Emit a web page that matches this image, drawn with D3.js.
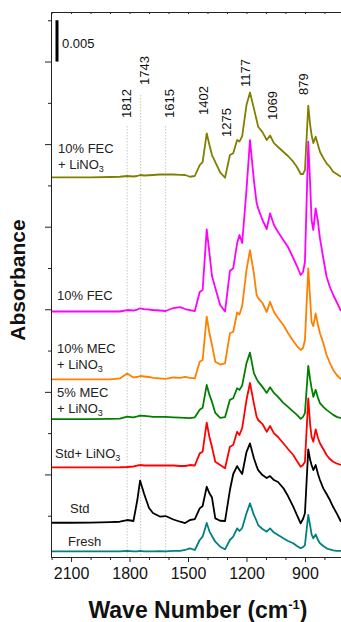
<!DOCTYPE html>
<html>
<head>
<meta charset="utf-8">
<script src="https://cdn.jsdelivr.net/npm/d3@7"></script>
<style>
  body { margin: 0; background: #fff; }
  text { font-family: Arial, "Liberation Sans", sans-serif; }
</style>
</head>
<body>
<svg id="chart"></svg>
<script>
// wave numbers (cm-1) shared by all spectra
const waveNumbers = [2200, 2100, 2000, 1900, 1850, 1812, 1780, 1760, 1746, 1725, 1700, 1680, 1645, 1615, 1575,
  1540, 1515, 1490, 1465, 1440, 1425, 1404, 1390, 1377, 1360, 1335, 1310, 1285, 1268, 1248, 1236, 1222,
  1200, 1182, 1162, 1148, 1140, 1118, 1096, 1079, 1059, 1038, 1011, 987, 960, 941, 922, 910, 900,
  883, 873, 866, 857, 845, 833, 823, 806, 789, 772, 755, 737, 715];

// absorbance above each baseline, in units of 0.001
const fec10Lino3 = [0, 0, 0, 0.04, 0.07, 0.16, 0.1, 0.16, 0.28, 0.22, 0.25, 0.28, 0.34, 0.36, 0.34,
  0.3, 0.28, 0.07, 0.16, 1.49, 1.85, 5.33, 3.91, 2.7, 1.85, 0.61, -0.05, 2.7, 2.91, 4.52, 4.33, 5.0,
  8.75, 10.27, 8.35, 6.94, 6.13, 5.48, 4.52, 5.06, 4.15, 3.67, 3.1, 2.58, 1.89, 1.25, 0.4, 0.4, 0.88,
  8.67, 6.33, 5.12, 4.15, 4.92, 3.91, 3.1, 2.34, 1.69, 1.25, 0.68, 0.4, 0.07];
const fec10 = [0, 0, 0, 0, 0, 0.18, 0.12, 0.24, 0.39, 0.3, 0.24, 0.18, 0.12, 0.06, 0.42,
  0.54, 0.3, 0.18, 0.06, 2.36, 2.6, 9.95, 7.08, 4.3, 2.85, 0.79, 0, 4.9, 5.23, 8.26, 9.26, 8.29,
  14.71, 20.76, 15.92, 13.14, 12.49, 11.08, 9.99, 11.89, 10.47, 9.62, 8.66, 7.81, 6.48, 5.51, 4.42, 4.78, 5.99,
  20.56, 15.31, 11.08, 9.87, 12.49, 10.84, 8.86, 6.48, 4.21, 2.97, 2.0, 1.15, 0.06];
const mec10Lino3 = [0, 0, 0, 0, 0.1, 0.7, 0.22, 0.28, 0.4, 0.34, 0.28, 0.16, 0.1, 0.04, 0.22,
  0.16, 0.28, 0.16, 0.1, 2.13, 2.34, 7.58, 5.57, 4.15, 2.13, 1.79, 1.94, 5.57, 5.76, 8.09, 7.85, 8.87,
  13.23, 15.65, 12.83, 10.21, 9.84, 9.24, 8.15, 9.39, 8.15, 7.42, 6.57, 5.61, 4.64, 4.03, 3.55, 3.79, 4.76,
  13.44, 9.6, 6.94, 6.45, 7.99, 6.57, 5.57, 4.39, 2.94, 1.97, 1.13, 0.52, 0];
const mec5Lino3 = [0, 0, 0.01, 0.04, 0.06, 0.31, 0.22, 0.34, 0.44, 0.4, 0.34, 0.28, 0.28, 0.28, 0.22,
  0.18, 0.16, 0.12, 0.22, 1.13, 1.37, 4.15, 2.94, 2.09, 0.76, 0.16, 0.24, 2.34, 2.54, 3.75, 3.55, 4.09,
  6.78, 8.06, 5.57, 4.88, 4.55, 3.91, 3.18, 3.87, 3.18, 2.7, 1.97, 1.49, 0.92, 0.52, 0.04, 0.28, 0.73,
  6.45, 4.76, 3.79, 2.7, 3.55, 2.58, 1.94, 1.49, 1.13, 0.82, 0.52, 0.28, 0.12];
const stdLino3 = [0, 0, 0, 0, 0.01, 0.04, 0.1, 0.22, 0.28, 0.22, 0.22, 0.22, 0.22, 0.24, 0.22,
  0.16, 0.16, 0.28, 0.22, 1.69, 1.89, 5.4, 3.67, 2.46, 0.68, 0.28, -0.12, 2.49, 2.7, 4.31, 3.91, 4.76,
  8.15, 10.21, 7.75, 6.13, 5.73, 5.24, 4.31, 5.0, 4.12, 3.67, 2.91, 2.22, 1.49, 0.76, 0.07, 0.28, 0.68,
  8.35, 5.12, 3.7, 3.1, 4.6, 3.55, 2.91, 2.22, 1.49, 1.0, 0.68, 0.46, 0.28];
const std = [0, 0, 0.02, 0.08, 0.12, 0.33, 0.21, 2.75, 5.11, 3.47, 1.78, 1.17, 0.75, 0.81, 0.39,
  0.12, -0.04, 0.33, 0.45, 1.74, 2.02, 4.36, 3.56, 3.05, 0.53, 0.24, 0.21, 3.96, 5.9, 6.86, 6.38, 5.9,
  8.56, 9.61, 7.8, 6.86, 6.38, 5.77, 5.41, 5.65, 5.17, 4.93, 4.2, 3.23, 1.94, 0.93, -0.07, 0.45, 1.14,
  8.89, 7.59, 6.99, 6.38, 6.99, 5.9, 5.17, 4.16, 3.47, 2.75, 1.9, 1.14, 0.12];
const fresh = [0, 0, 0, 0, 0, 0.04, 0, 0, 0.04, 0, 0, 0, 0.02, 0, 0.04,
  0.06, 0.16, 0.36, 0.16, 1.37, 1.77, 3.43, 2.42, 1.85, 1.16, 0.56, 0.24, 1.37, 1.77, 2.78, 2.46, 2.82,
  4.6, 5.81, 4.4, 3.67, 3.18, 2.7, 2.37, 2.78, 2.27, 1.97, 1.57, 1.25, 0.97, 0.64, 0.36, 0.52, 0.76,
  4.4, 3.07, 2.06, 1.57, 2.05, 1.36, 0.97, 0.64, 0.36, 0.22, 0.12, 0.06, 0.04];

// vertical stacking offset of each spectrum (units of 0.001)
const offsets = [45.98, 29.73, 21.52, 16.69, 10.86, 4.15, 0.69];
const seriesNames = [["10% FEC", "+ LiNO3"], ["10% FEC"], ["10% MEC", "+ LiNO3"], ["5% MEC", "+ LiNO3"],
  ["Std+ LiNO3"], ["Std"], ["Fresh"]];
const seriesValues = [fec10Lino3, fec10, mec10Lino3, mec5Lino3, stdLino3, std, fresh];

// peak assignments
const peaks = [1812, 1743, 1615, 1402, 1275, 1177, 1069, 879];
const guidePeaks = [1812, 1743, 1615];

const xMajor = [2100, 1800, 1500, 1200, 900];
const xMinor = [2200, 2000, 1900, 1700, 1600, 1400, 1300, 1100, 1000, 800];
const yMajor = [10, 20, 30, 40, 50, 60];
const yMinor = [5, 15, 25, 35, 45, 55, 65];
const scaleBar = [60, 65];

// layout
const colors = ["#808000", "#ff00ff", "#ff8000", "#008000", "#ff0000", "#000000", "#008080"];
const labelPos = [[58, 153], [57, 300], [57, 353], [57, 397], [55, 458], [70, 513], [68, 546]];
const peakLabelPos = [[-1, 118], [3.5, 85], [3.5, 118], [-3.5, 115], [-5, 137], [-6, 87], [0, 120], [-6, 95]];
const guideTop = [126, 95, 126];

const margin = { top: 12, right: 0, bottom: 65, left: 51 };
const width = 341 - margin.left - margin.right;
const height = 622 - margin.top - margin.bottom;

const x = d3.scaleLinear().domain([2203, 715]).range([0, width]);
const y = d3.scaleLinear().domain([0, 66]).range([height, 0]);

const svg = d3.select("#chart")
  .attr("width", 341)
  .attr("height", 622)
  .append("g")
  .attr("transform", "translate(" + margin.left + "," + margin.top + ")");

// dotted guide lines
svg.selectAll(".guide")
  .data(guidePeaks)
  .join("line")
  .attr("x1", d => x(d))
  .attr("x2", d => x(d))
  .attr("y1", (d, i) => guideTop[i] - margin.top)
  .attr("y2", height)
  .attr("stroke", "#c8c8c8")
  .attr("stroke-width", 1)
  .attr("stroke-dasharray", "1.5,1.5");

// spectra
seriesValues.forEach(function (vals, i) {
  const line = d3.line()
    .x((d, j) => x(waveNumbers[j]))
    .y(d => y(d + offsets[i]));
  svg.append("path")
    .datum(vals)
    .attr("fill", "none")
    .attr("stroke", colors[i])
    .attr("stroke-width", 1.8)
    .attr("stroke-linejoin", "round")
    .attr("d", line);
});

// series labels
seriesNames.forEach(function (lines, i) {
  lines.forEach(function (t, k) {
    const txt = svg.append("text")
      .attr("x", labelPos[i][0] - margin.left)
      .attr("y", labelPos[i][1] - margin.top + k * 16)
      .style("font-size", "13px")
      .attr("fill", "#222");
    if (t.indexOf("LiNO3") >= 0) {
      txt.append("tspan").text(t.replace("LiNO3", "LiNO"));
      txt.append("tspan").text("3").style("font-size", "9px").attr("dy", 3);
    } else {
      txt.text(t);
    }
  });
});

// peak labels
svg.selectAll(".peak")
  .data(peaks)
  .join("text")
  .attr("transform", (d, i) => "translate(" + (x(d) + peakLabelPos[i][0]) + "," + (peakLabelPos[i][1] - margin.top) + ") rotate(-90)")
  .attr("dy", "0.35em")
  .style("font-size", "13px")
  .attr("fill", "#111")
  .text(d => d);

// scale bar
svg.append("line")
  .attr("x1", 6).attr("x2", 6)
  .attr("y1", y(scaleBar[0]))
  .attr("y2", y(scaleBar[1]))
  .attr("stroke", "#000")
  .attr("stroke-width", 3);
svg.append("text")
  .attr("x", 11)
  .attr("y", 48 - margin.top)
  .style("font-size", "13px")
  .attr("fill", "#111")
  .text(((scaleBar[1] - scaleBar[0]) / 1000).toFixed(3));

// Add the X Axis
const xAxis = svg.append("g")
  .attr("transform", "translate(0," + height + ")")
  .call(d3.axisBottom(x).tickValues(xMajor).tickFormat(d3.format("d")).tickSize(5).tickSizeOuter(0).tickPadding(6));
xAxis.selectAll("text").style("font-size", "16px").attr("fill", "#111");
svg.append("g")
  .attr("transform", "translate(0," + height + ")")
  .call(d3.axisBottom(x).tickValues(xMinor).tickSize(3).tickFormat("").tickSizeOuter(0))
  .select(".domain").remove();

// top axis
svg.append("g")
  .call(d3.axisTop(x).tickValues(xMajor.concat(xMinor)).tickSize(-2).tickFormat("").tickSizeOuter(0));

// Add the Y Axis
svg.append("g")
  .call(d3.axisLeft(y).tickValues(yMajor).tickSize(6).tickFormat("").tickSizeOuter(0));
svg.append("g")
  .call(d3.axisLeft(y).tickValues(yMinor).tickSize(3).tickFormat("").tickSizeOuter(0))
  .select(".domain").remove();

svg.selectAll(".domain, .tick line").attr("stroke", "#222");

// text label for the x axis
const xTitle = svg.append("text")
  .attr("x", width / 2 + 2)
  .attr("y", 618 - margin.top)
  .style("text-anchor", "middle")
  .style("font-size", "23px")
  .style("font-weight", "bold")
  .attr("fill", "#111");
xTitle.append("tspan").text("Wave Number (cm");
xTitle.append("tspan").text("-1").style("font-size", "13px").attr("dy", -9);
xTitle.append("tspan").text(")").attr("dy", 9);

// text label for the y axis
svg.append("text")
  .attr("transform", "translate(" + (25 - margin.left) + "," + (280 - margin.top) + ") rotate(-90)")
  .style("text-anchor", "middle")
  .style("font-size", "21px")
  .style("font-weight", "bold")
  .attr("fill", "#111")
  .text("Absorbance");
</script>
</body>
</html>
